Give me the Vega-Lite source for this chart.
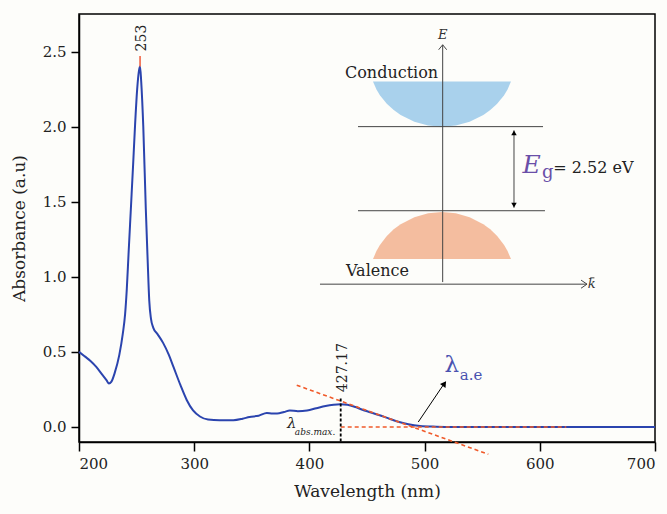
{
  "$schema": "https://vega.github.io/schema/vega-lite/v6.json",
  "width": 576,
  "height": 428,
  "autosize": "none",
  "padding": {"left": 79, "top": 14, "right": 12, "bottom": 72},
  "background": "#fdfdfa",
  "config": {
    "font": "DejaVu Serif",
    "text": {"font": "DejaVu Serif"},
    "view": {"stroke": "black", "strokeWidth": 1.5},
    "axis": {"grid": false, "domainColor": "black", "domainWidth": 1.5, "tickColor": "black", "tickWidth": 1.5, "labelFont": "DejaVu Serif", "titleFont": "DejaVu Serif", "labelColor": "#222", "titleColor": "#222", "labelFontSize": 15, "titleFontSize": 17, "titleFontWeight": "normal"}
  },
  "datasets": {
    "curve": [
      {"x": 200, "y": 0.50}, {"x": 205, "y": 0.47}, {"x": 210, "y": 0.44}, {"x": 215, "y": 0.40},
      {"x": 220, "y": 0.35}, {"x": 224, "y": 0.31}, {"x": 226, "y": 0.29}, {"x": 228, "y": 0.30},
      {"x": 231, "y": 0.36}, {"x": 235, "y": 0.48}, {"x": 238, "y": 0.62}, {"x": 240, "y": 0.75},
      {"x": 241.5, "y": 0.92}, {"x": 243, "y": 1.15}, {"x": 245, "y": 1.45}, {"x": 247, "y": 1.75},
      {"x": 248.6, "y": 2.0}, {"x": 250.5, "y": 2.25}, {"x": 252, "y": 2.37}, {"x": 253, "y": 2.40},
      {"x": 254, "y": 2.30}, {"x": 255.8, "y": 2.0}, {"x": 258, "y": 1.45}, {"x": 259.6, "y": 1.11},
      {"x": 261, "y": 0.84}, {"x": 262.5, "y": 0.72}, {"x": 264.5, "y": 0.66}, {"x": 268, "y": 0.62},
      {"x": 273, "y": 0.56}, {"x": 278, "y": 0.48}, {"x": 282, "y": 0.40}, {"x": 288, "y": 0.28},
      {"x": 293.5, "y": 0.18}, {"x": 299, "y": 0.11}, {"x": 305, "y": 0.07}, {"x": 312, "y": 0.05},
      {"x": 322, "y": 0.045}, {"x": 334, "y": 0.045}, {"x": 342, "y": 0.055}, {"x": 348, "y": 0.067},
      {"x": 356, "y": 0.075}, {"x": 363, "y": 0.093}, {"x": 368, "y": 0.09}, {"x": 372, "y": 0.09},
      {"x": 378, "y": 0.10}, {"x": 383, "y": 0.11}, {"x": 390, "y": 0.105}, {"x": 398, "y": 0.11},
      {"x": 406, "y": 0.125}, {"x": 414, "y": 0.14}, {"x": 421, "y": 0.148}, {"x": 427, "y": 0.151},
      {"x": 433, "y": 0.148}, {"x": 440, "y": 0.133}, {"x": 446, "y": 0.115}, {"x": 452, "y": 0.10},
      {"x": 461, "y": 0.078}, {"x": 470, "y": 0.053}, {"x": 478, "y": 0.033}, {"x": 486, "y": 0.018},
      {"x": 496, "y": 0.007}, {"x": 510, "y": 0.002}, {"x": 525, "y": 0.0}, {"x": 600, "y": 0.0},
      {"x": 700, "y": 0.0}
    ],
    "conduction": [
      {"x": 455.2, "y": 2.30, "y2": 2.30}, {"x": 458.2, "y": 2.248, "y2": 2.30}, {"x": 461.2, "y": 2.209, "y2": 2.30},
      {"x": 467.2, "y": 2.152, "y2": 2.30}, {"x": 473.2, "y": 2.110, "y2": 2.30}, {"x": 479.2, "y": 2.077, "y2": 2.30},
      {"x": 491.1, "y": 2.032, "y2": 2.30}, {"x": 503.1, "y": 2.008, "y2": 2.30}, {"x": 515.1, "y": 2.00, "y2": 2.30},
      {"x": 527.1, "y": 2.008, "y2": 2.30}, {"x": 539.1, "y": 2.032, "y2": 2.30}, {"x": 551.0, "y": 2.077, "y2": 2.30},
      {"x": 557.0, "y": 2.110, "y2": 2.30}, {"x": 563.0, "y": 2.152, "y2": 2.30}, {"x": 569.0, "y": 2.209, "y2": 2.30},
      {"x": 572.0, "y": 2.248, "y2": 2.30}, {"x": 575.0, "y": 2.30, "y2": 2.30}
    ],
    "valence": [
      {"x": 455.2, "y": 1.118, "y2": 1.118}, {"x": 458.2, "y": 1.172, "y2": 1.118}, {"x": 461.2, "y": 1.212, "y2": 1.118},
      {"x": 467.2, "y": 1.272, "y2": 1.118}, {"x": 473.2, "y": 1.316, "y2": 1.118}, {"x": 479.2, "y": 1.350, "y2": 1.118},
      {"x": 491.1, "y": 1.397, "y2": 1.118}, {"x": 503.1, "y": 1.423, "y2": 1.118}, {"x": 515.1, "y": 1.431, "y2": 1.118},
      {"x": 527.1, "y": 1.423, "y2": 1.118}, {"x": 539.1, "y": 1.397, "y2": 1.118}, {"x": 551.0, "y": 1.350, "y2": 1.118},
      {"x": 557.0, "y": 1.316, "y2": 1.118}, {"x": 563.0, "y": 1.272, "y2": 1.118}, {"x": 569.0, "y": 1.212, "y2": 1.118},
      {"x": 572.0, "y": 1.172, "y2": 1.118}, {"x": 575.0, "y": 1.118, "y2": 1.118}
    ],
    "insetLines": [
      {"x": 442.2, "y": 2.00, "x2": 602.8, "y2": 2.00},
      {"x": 442.2, "y": 1.44, "x2": 604.5, "y2": 1.44},
      {"x": 515.7, "y": 0.965, "x2": 515.7, "y2": 2.545},
      {"x": 409.2, "y": 0.951, "x2": 641, "y2": 0.951},
      {"x": 577.6, "y": 1.46, "x2": 577.6, "y2": 1.975},
      {"x": 512.2, "y": 2.512, "x2": 515.7, "y2": 2.545},
      {"x": 519.2, "y": 2.512, "x2": 515.7, "y2": 2.545},
      {"x": 635.8, "y": 0.978, "x2": 641, "y2": 0.951},
      {"x": 635.8, "y": 0.924, "x2": 641, "y2": 0.951}
    ],
    "gapHeads": [
      {"x": 577.6, "y": 1.958, "dir": "up"},
      {"x": 577.6, "y": 1.478, "dir": "down"}
    ],
    "redLines": [
      {"x": 427.17, "y": 0.0, "x2": 623, "y2": 0.0},
      {"x": 389, "y": 0.278, "x2": 555.3, "y2": -0.182}
    ],
    "blackDash": [{"x": 427.17, "y": 0.19, "x2": 427.17, "y2": -0.1}],
    "peakMark": [{"x": 253, "y": 2.40, "x2": 253, "y2": 2.47}],
    "aeArrow": [{"x": 494.5, "y": 0.033, "x2": 518.0, "y2": 0.30}],
    "aeHead": [{"x": 517.2, "y": 0.289}],
    "rotLabels": [
      {"x": 254.4, "y": 2.59, "label": "253"},
      {"x": 429.2, "y": 0.395, "label": "427.17"}
    ],
    "bandLabels": [
      {"x": 430.9, "y": 2.36, "label": "Conduction"},
      {"x": 431.8, "y": 1.04, "label": "Valence"}
    ],
    "axisLetters": [
      {"x": 515.7, "y": 2.61, "label": "E"},
      {"x": 645, "y": 0.95, "label": "k"}
    ],
    "kBar": [{"x": 643.8, "y": 0.993, "x2": 647.4, "y2": 0.993}],
    "egBig": [{"x": 593.0, "y": 1.745, "label": "E"}],
    "egSub": [{"x": 601.9, "y": 1.658, "label": "g"}],
    "egValue": [{"x": 611.7, "y": 1.723, "label": "= 2.52 eV"}],
    "lamAbs": [{"x": 384.6, "y": 0.027, "label": "λ"}],
    "lamAbsSub": [{"x": 404.9, "y": -0.033, "label": "abs.max."}],
    "lamAe": [{"x": 523.5, "y": 0.41, "label": "λ"}],
    "lamAeSub": [{"x": 530.5, "y": 0.345, "label": "a.e"}]
  },
  "encoding": {
    "x": {"field": "x", "type": "quantitative",
      "scale": {"domain": [200, 700], "nice": false, "zero": false},
      "axis": {"title": "Wavelength (nm)", "values": [200, 300, 400, 500, 600, 700], "tickSize": 9, "labelPadding": 5, "titlePadding": 12}},
    "y": {"field": "y", "type": "quantitative",
      "scale": {"domain": [-0.1, 2.75], "nice": false, "zero": false},
      "axis": {"title": "Absorbance (a.u)", "values": [0, 0.5, 1, 1.5, 2, 2.5], "format": ".1f", "tickSize": 8, "labelPadding": 5, "titlePadding": 14}}
  },
  "layer": [
    {"data": {"name": "conduction"}, "mark": {"type": "area", "color": "#a9d1ec"}, "encoding": {"y2": {"field": "y2"}}},
    {"data": {"name": "valence"}, "mark": {"type": "area", "color": "#f4bd9f"}, "encoding": {"y2": {"field": "y2"}}},
    {"data": {"name": "insetLines"}, "mark": {"type": "rule", "color": "#444", "strokeWidth": 1}, "encoding": {"x2": {"field": "x2"}, "y2": {"field": "y2"}}},
    {"data": {"name": "kBar"}, "mark": {"type": "rule", "color": "#444", "strokeWidth": 1}, "encoding": {"x2": {"field": "x2"}, "y2": {"field": "y2"}}},
    {"data": {"name": "gapHeads"}, "mark": {"type": "point", "filled": true, "color": "black", "size": 30, "opacity": 1},
      "encoding": {"shape": {"field": "dir", "type": "nominal", "scale": {"domain": ["up", "down"], "range": ["triangle-up", "triangle-down"]}, "legend": null}}},
    {"data": {"name": "curve"}, "mark": {"type": "line", "color": "#2b44ae", "strokeWidth": 2, "interpolate": "monotone"}},
    {"data": {"name": "redLines"}, "mark": {"type": "rule", "color": "#f05a2a", "strokeWidth": 1.6, "strokeDash": [4, 3]}, "encoding": {"x2": {"field": "x2"}, "y2": {"field": "y2"}}},
    {"data": {"name": "blackDash"}, "mark": {"type": "rule", "color": "black", "strokeWidth": 1.8, "strokeDash": [3, 2]}, "encoding": {"x2": {"field": "x2"}, "y2": {"field": "y2"}}},
    {"data": {"name": "peakMark"}, "mark": {"type": "rule", "color": "#ee5a3a", "strokeWidth": 1.5}, "encoding": {"x2": {"field": "x2"}, "y2": {"field": "y2"}}},
    {"data": {"name": "aeArrow"}, "mark": {"type": "rule", "color": "black", "strokeWidth": 1}, "encoding": {"x2": {"field": "x2"}, "y2": {"field": "y2"}}},
    {"data": {"name": "aeHead"}, "mark": {"type": "point", "shape": "triangle-up", "filled": true, "color": "black", "size": 45, "angle": 35, "opacity": 1}},
    {"data": {"name": "rotLabels"}, "mark": {"type": "text", "angle": 270, "fontSize": 14, "color": "#222", "align": "center", "baseline": "middle"}, "encoding": {"text": {"field": "label"}}},
    {"data": {"name": "bandLabels"}, "mark": {"type": "text", "fontSize": 16, "color": "#222", "align": "left", "baseline": "middle"}, "encoding": {"text": {"field": "label"}}},
    {"data": {"name": "axisLetters"}, "mark": {"type": "text", "fontSize": 13, "fontStyle": "italic", "color": "#333", "align": "center", "baseline": "middle"}, "encoding": {"text": {"field": "label"}}},
    {"data": {"name": "egBig"}, "mark": {"type": "text", "fontSize": 25, "fontStyle": "italic", "color": "#6a4fa8", "align": "center", "baseline": "middle"}, "encoding": {"text": {"field": "label"}}},
    {"data": {"name": "egSub"}, "mark": {"type": "text", "fontSize": 18, "color": "#6a4fa8", "align": "left", "baseline": "alphabetic"}, "encoding": {"text": {"field": "label"}}},
    {"data": {"name": "egValue"}, "mark": {"type": "text", "fontSize": 16, "color": "#222", "align": "left", "baseline": "middle"}, "encoding": {"text": {"field": "label"}}},
    {"data": {"name": "lamAbs"}, "mark": {"type": "text", "fontSize": 15, "fontStyle": "italic", "color": "#222", "align": "center", "baseline": "middle"}, "encoding": {"text": {"field": "label"}}},
    {"data": {"name": "lamAbsSub"}, "mark": {"type": "text", "fontSize": 9, "fontStyle": "italic", "color": "#222", "align": "center", "baseline": "middle"}, "encoding": {"text": {"field": "label"}}},
    {"data": {"name": "lamAe"}, "mark": {"type": "text", "fontSize": 23, "color": "#4a52b0", "align": "center", "baseline": "middle"}, "encoding": {"text": {"field": "label"}}},
    {"data": {"name": "lamAeSub"}, "mark": {"type": "text", "fontSize": 15, "color": "#4a52b0", "align": "left", "baseline": "middle"}, "encoding": {"text": {"field": "label"}}}
  ]
}
